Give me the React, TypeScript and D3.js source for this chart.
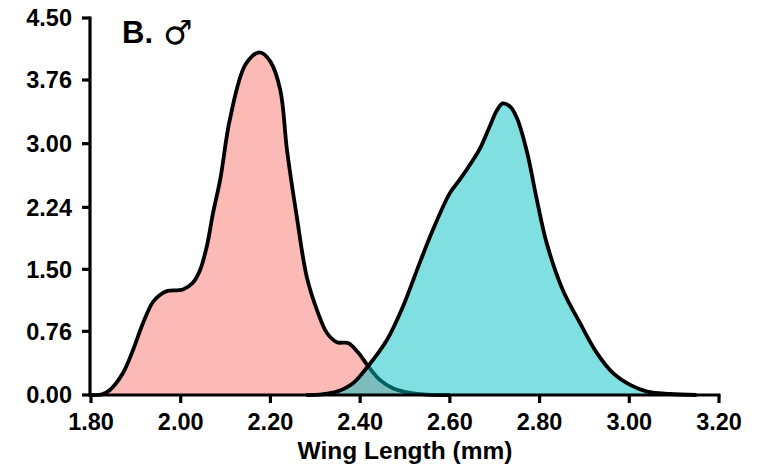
import React from "react";
import * as d3 from "d3";

const xTicks = [1.8, 2.0, 2.2, 2.4, 2.6, 2.8, 3.0, 3.2];
const yTicks = [0, 0.76, 1.5, 2.24, 3.0, 3.76, 4.5];

const pinkX = [1.80, 1.825, 1.842, 1.871, 1.894, 1.916, 1.938, 1.955, 1.969, 2.005, 2.027, 2.043, 2.058, 2.072, 2.088, 2.11, 2.145, 2.176, 2.2, 2.222, 2.237, 2.259, 2.281, 2.304, 2.326, 2.348, 2.373, 2.395, 2.417, 2.444, 2.473, 2.511, 2.55, 2.6];
const pinkY = [0, 0.008, 0.06, 0.26, 0.54, 0.86, 1.11, 1.2, 1.24, 1.26, 1.34, 1.49, 1.77, 2.17, 2.57, 3.3, 3.95, 4.09, 3.98, 3.64, 2.92, 2.12, 1.41, 1.01, 0.74, 0.63, 0.62, 0.51, 0.35, 0.18, 0.08, 0.025, 0.005, 0];

const cyanX = [2.28, 2.315, 2.348, 2.384, 2.417, 2.46, 2.495, 2.533, 2.562, 2.6, 2.622, 2.651, 2.667, 2.69, 2.705, 2.718, 2.735, 2.75, 2.772, 2.794, 2.816, 2.852, 2.89, 2.928, 2.964, 3.002, 3.04, 3.09, 3.15];
const cyanY = [0, 0.008, 0.04, 0.14, 0.34, 0.66, 1.05, 1.58, 1.97, 2.41, 2.57, 2.8, 2.94, 3.22, 3.4, 3.48, 3.44, 3.3, 2.9, 2.33, 1.81, 1.25, 0.86, 0.5, 0.26, 0.12, 0.04, 0.012, 0];

const W = 759, H = 471;
const FONT = "'Liberation Sans', Arial, sans-serif";

export default function App() {
  const x = d3.scaleLinear().domain([1.8, 3.2]).range([91, 719]);
  const y = d3.scaleLinear().domain([0, 4.5]).range([395, 18]);

  const mk = (xs: number[], ys: number[]) => {
    const pts: [number, number][] = xs.map((v, i) => [v, ys[i]]);
    const curve = d3.curveCatmullRom.alpha(0.5);
    const area = d3.area<[number, number]>()
      .x(d => x(d[0])).y0(y(0)).y1(d => Math.min(y(0), y(d[1])))
      .curve(curve)(pts) as string;
    const line = d3.line<[number, number]>()
      .x(d => x(d[0])).y(d => Math.min(y(0), y(d[1])))
      .curve(curve)(pts) as string;
    return { area, line };
  };
  const pink = mk(pinkX, pinkY);
  const cyan = mk(cyanX, cyanY);

  return (
    <svg width={W} height={H} style={{ position: "absolute", left: 0, top: 0, background: "#fff" }} fontFamily={FONT}>
      <path d={pink.area} fill="#F8766D" fillOpacity={0.5} />
      <path d={pink.line} fill="none" stroke="#000" strokeWidth={3.8} strokeLinejoin="round" />
      <path d={cyan.area} fill="#00BFC4" fillOpacity={0.5} />
      <path d={cyan.line} fill="none" stroke="#000" strokeWidth={3.8} strokeLinejoin="round" />

      {/* axes */}
      <line x1={90} x2={90} y1={y(4.5) - 1.5} y2={y(0) + 1.5} stroke="#000" strokeWidth={3.2} />
      <line x1={88.5} x2={x(3.2) + 1.5} y1={y(0)} y2={y(0)} stroke="#000" strokeWidth={3.2} />
      {yTicks.map(t => (
        <g key={"y" + t}>
          <line x1={82} x2={90} y1={y(t)} y2={y(t)} stroke="#000" strokeWidth={3.2} />
          <text x={72} y={y(t)} dy="0.36em" textAnchor="end" fontSize={23.5} fontWeight="bold">{t.toFixed(2)}</text>
        </g>
      ))}
      {xTicks.map(t => (
        <g key={"x" + t}>
          <line x1={x(t)} x2={x(t)} y1={y(0)} y2={y(0) + 8} stroke="#000" strokeWidth={3.2} />
          <text x={x(t)} y={430} textAnchor="middle" fontSize={23.5} fontWeight="bold">{t.toFixed(2)}</text>
        </g>
      ))}
      <text x={405} y={459} textAnchor="middle" fontSize={24.5} fontWeight="bold">Wing Length (mm)</text>
      <text x={122} y={43} fontSize={31} fontWeight="bold">B.</text>
      <text x={163} y={44} fontSize={33} fontFamily="'DejaVu Sans', sans-serif">♂</text>
    </svg>
  );
}
